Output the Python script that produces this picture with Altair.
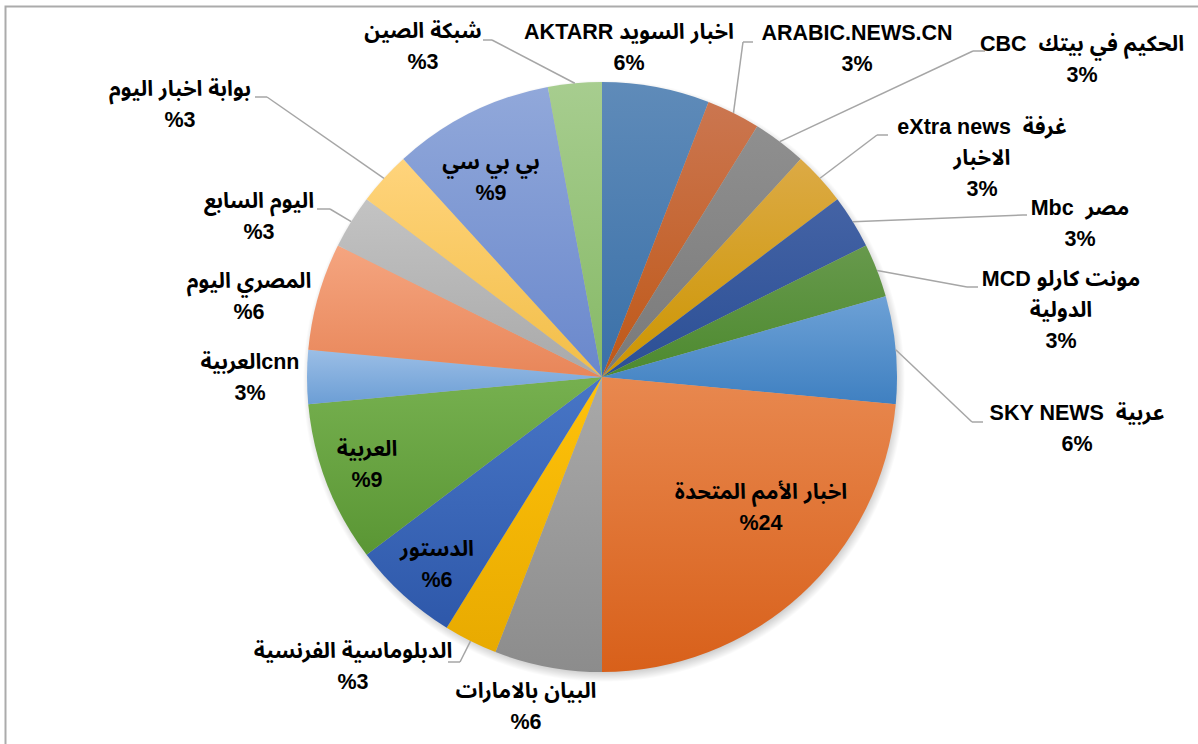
import math
import altair as alt
import pandas as pd

NB = "\u00a0"  # non-breaking space keeps the wide gap between Latin and Arabic parts

# ---------------- data ----------------
names = [
    "AKTARR اخبار السويد",
    "ARABIC.NEWS.CN",
    f"CBC {NB}الحكيم في بيتك",
    f"eXtra news {NB}غرفة\nالاخبار",
    f"Mbc {NB}مصر",
    "MCD مونت كارلو\nالدولية",
    f"SKY NEWS {NB}عربية",
    "اخبار الأمم المتحدة",
    "البيان بالامارات",
    "الدبلوماسية الفرنسية",
    "الدستور",
    "العربية",
    "العربيةcnn",
    "المصري اليوم",
    "اليوم السابع",
    "بوابة اخبار اليوم",
    "بي بي سي",
    "شبكة الصين",
]
counts = [2, 1, 1, 1, 1, 1, 2, 8, 2, 1, 2, 3, 1, 2, 1, 1, 3, 1]
# how the percent sign is displayed in each label ("%3" vs "3%")
percent_sign_first = [False, False, False, False, False, False, False,
                      True, True, True, True, True, False, True, True, True, True, True]

# ---------------- styles ----------------
color_top = ["#5F8BB9", "#CB7650", "#8F8F8F", "#DCAA45", "#4463A5", "#67994C",
             "#6DA1D6", "#E8884F", "#A9A9A9", "#FFC20A", "#4876C6", "#76B04F",
             "#9BBEE6", "#F5A580", "#C3C3C3", "#FFD47C", "#91A8DA", "#A7CD8F"]
color_bottom = ["#3A70A8", "#BF5817", "#7A7A7A", "#CC9500", "#2B4F95", "#4D8A2F",
                "#3F80C1", "#D8601A", "#8C8C8C", "#E8AA00", "#2E58AA", "#5A9634",
                "#6C9ED5", "#E88659", "#A9A9A9", "#F2BE48", "#6A88CC", "#86B966"]

# ---------------- layout (page pixel coordinates of annotations) ----------------
PAD_L, PAD_T = 6, 10
W, H = 1198 - PAD_L, 744 - PAD_T
CX, CY = W / 2, H / 2
R = 295

# centre x and first-line y of each label
label_pos = [(629, 33), (857, 34), (1082, 45), (982, 128), (1080, 209), (1061, 280),
             (1077, 414), (761, 493), (526, 692), (353, 652), (437, 550), (367, 450),
             (250, 363), (249, 282), (259, 202), (180, 90), (491, 163), (423, 32)]
# leader lines: slice index -> (elbow x, elbow y, end x)
leaders = {1: (743, 42, 753), 2: (973, 51, 985), 3: (877, 135, 888),
           4: (1023, 215, 1027), 5: (967, 287, 978), 6: (972, 422, 983),
           9: (460, 662, 448), 14: (330, 209, 317), 15: (267, 97, 255),
           17: (492, 40, 483)}

FONT = "Arial, 'Liberation Sans', 'Noto Sans Arabic', 'DejaVu Sans', sans-serif"

# ---------------- derived table ----------------
total = sum(counts)
rows = []
cum = 0
for i, (n, c) in enumerate(zip(names, counts)):
    pct = round(100 * c / total)
    ptxt = f"%{pct}" if percent_sign_first[i] else f"{pct}%"
    mid = cum + c / 2
    ang = 2 * math.pi * mid / total
    rows.append(dict(idx=i, name=n, count=c, start=cum, end=cum + c,
                     label=f"{n}\n{ptxt}",
                     lx=label_pos[i][0] - PAD_L, ly=label_pos[i][1] - PAD_T,
                     sx=CX + R * math.sin(ang), sy=CY - R * math.cos(ang)))
    cum += c
df = pd.DataFrame(rows)

lead_rows = []
for i, (ex, ey, ax) in leaders.items():
    sx, sy = df.loc[i, "sx"], df.loc[i, "sy"]
    lead_rows.append(dict(x=sx, y=sy, x2=ex - PAD_L, y2=ey - PAD_T))
    lead_rows.append(dict(x=ex - PAD_L, y=ey - PAD_T, x2=ax - PAD_L, y2=ey - PAD_T))
lead_df = pd.DataFrame(lead_rows)

theta_scale = alt.Scale(domain=[0, total], range=[0, 2 * math.pi])

# ---------------- layers ----------------
frame = alt.Chart(pd.DataFrame({"a": [0]})).mark_rect(
    fill="transparent", stroke="#ABABAB", strokeWidth=2
).encode(x=alt.value(5.5 - PAD_L), y=alt.value(6.5 - PAD_T),
         x2=alt.value(1300), y2=alt.value(900))

shadow = alt.Chart(pd.DataFrame({"a": [0]})).mark_arc(
    outerRadius=301, theta=0, theta2=2 * math.pi,
    color=alt.RadialGradient(
        gradient="radial",
        stops=[alt.GradientStop(color="rgba(0,0,0,0.28)", offset=0),
               alt.GradientStop(color="rgba(0,0,0,0.28)", offset=0.95),
               alt.GradientStop(color="rgba(0,0,0,0)", offset=1)],
        x1=0.5, y1=0.5, r1=0, x2=0.5, y2=0.5, r2=0.5),
).encode(x=alt.value(CX + 2), y=alt.value(CY + 4))

slices = []
for i in range(len(names)):
    grad = alt.LinearGradient(
        gradient="linear",
        stops=[alt.GradientStop(color=color_top[i], offset=0),
               alt.GradientStop(color=color_bottom[i], offset=1)],
        x1=0, x2=0, y1=0, y2=1)
    slices.append(
        alt.Chart(df).transform_filter(alt.datum.idx == i)
        .mark_arc(outerRadius=R, color=grad)
        .encode(theta=alt.Theta("start:Q", scale=theta_scale),
                theta2="end:Q")
    )

leader_lines = alt.Chart(lead_df).mark_rule(color="#A6A6A6", strokeWidth=1.5).encode(
    x=alt.X("x:Q", scale=None), y=alt.Y("y:Q", scale=None),
    x2="x2:Q", y2="y2:Q")

labels = alt.Chart(df).mark_text(
    font=FONT, fontSize=21.5, fontWeight="bold", lineBreak="\n", lineHeight=31,
    align="center", baseline="middle", color="#000000"
).encode(x=alt.X("lx:Q", scale=None), y=alt.Y("ly:Q", scale=None), text="label:N")

chart = alt.layer(frame, shadow, *slices, leader_lines, labels).properties(
    width=W, height=H,
    padding={"left": PAD_L, "top": PAD_T, "right": 0, "bottom": 0},
    autosize="none",
    background="white",
).configure_view(strokeWidth=0)

chart.save("out.html", embed_options={"renderer": "svg", "actions": False})
